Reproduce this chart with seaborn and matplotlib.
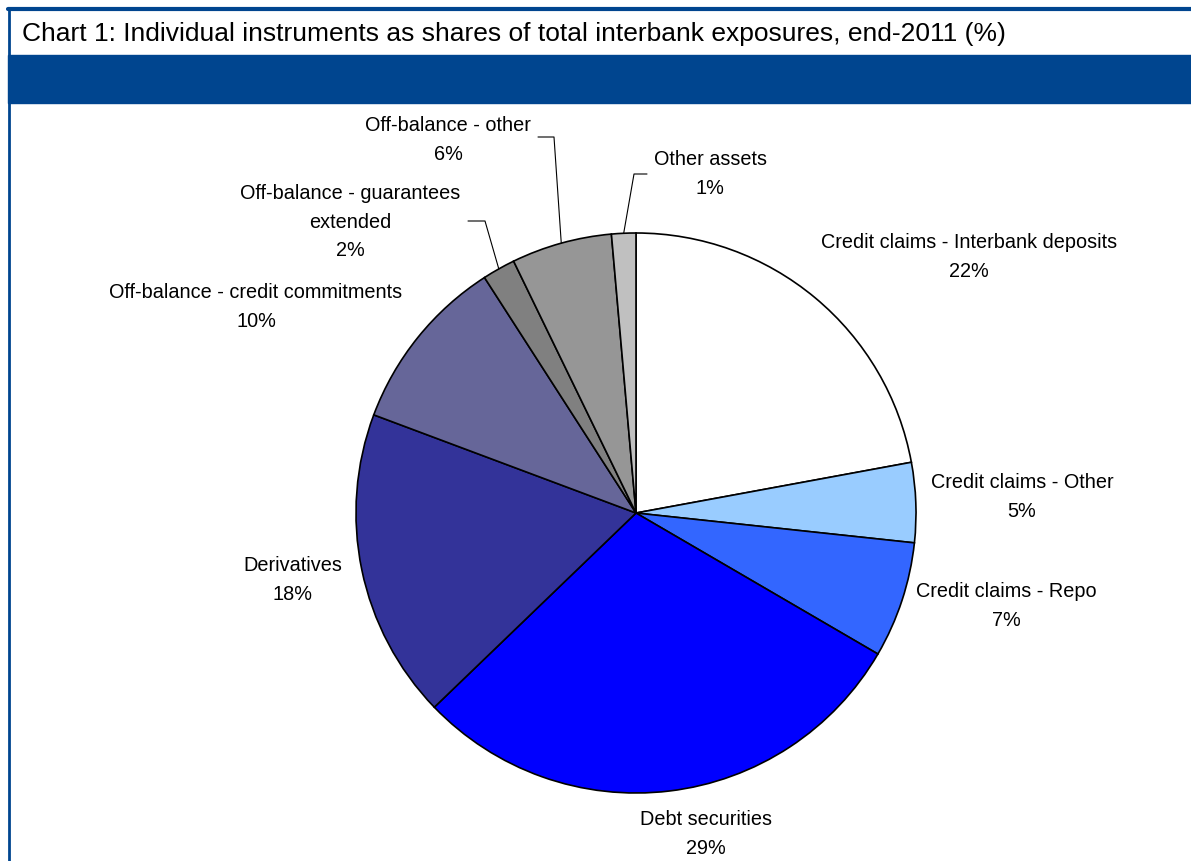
import numpy as np
import seaborn as sns
import matplotlib.pyplot as plt

sns.set_style("white")
plt.rcParams['font.family'] = ['Liberation Sans', 'DejaVu Sans']

# shares of total interbank exposures, end-2011 (%)
instruments = ["Credit claims - Interbank deposits", "Credit claims - Other",
               "Credit claims - Repo", "Debt securities", "Derivatives",
               "Off-balance - credit commitments", "Off-balance - guarantees\nextended",
               "Off-balance - other", "Other assets"]
shares = [22.1, 4.6, 6.7, 29.4, 17.9, 10.2, 1.9, 5.8, 1.4]
colours = ["#FFFFFF", "#99CCFF", "#3366FF", "#0000FF", "#333399",
           "#666699", "#808080", "#969696", "#C0C0C0"]

# label centres (pixels, from top-left) and which ones get a leader line
label_pos = [(969, 257), (1022, 497), (1006, 606), (706, 834), (293, 580),
             (256, 307), (350, 222), (448, 140), (710, 174)]
leader_bend = {6: ((485, 221), (468, 221)), 7: ((554, 137), (538, 137)),
               8: ((634, 174), (647, 174))}

W, H = 1191, 861
fig = plt.figure(figsize=(W / 100, H / 100), dpi=100)
ax = fig.add_axes([0, 0, 1, 1])

cx, cy, r = 636, H - 513, 280
wedges, _ = ax.pie(shares, colors=colours, startangle=90, counterclock=False,
                   center=(cx, cy), radius=r,
                   wedgeprops=dict(edgecolor="black", linewidth=1.2))

for i, (name, val) in enumerate(zip(instruments, shares)):
    x, y = label_pos[i]
    ax.text(x, H - y, f"{name}\n{val:.0f}%", ha="center", va="center",
            fontsize=14.3, linespacing=1.65, color="black")
    if i in leader_bend:
        w = wedges[i]
        mid = np.deg2rad((w.theta1 + w.theta2) / 2)
        sx, sy = cx + r * np.cos(mid), cy + r * np.sin(mid)
        (bx, by), (ex, ey) = leader_bend[i]
        ax.plot([sx, bx, ex], [sy, H - by, H - ey], color="black", lw=0.8)

# header: title strip and blue band, blue frame
blue = "#00458F"
ax.add_patch(plt.Rectangle((8, H - 103), W, 48, color=blue, zorder=0))
ax.plot([9, 9], [0, H - 9], color=blue, lw=2)
ax.plot([8, W], [H - 9, H - 9], color=blue, lw=3)
ax.text(22, H - 34, "Chart 1: Individual instruments as shares of total interbank exposures, end-2011 (%)",
        ha="left", va="center", fontsize=19, color="black")

ax.set_xlim(0, W)
ax.set_ylim(0, H)
ax.set_aspect("auto")
ax.axis("off")

plt.savefig("out.png", dpi=100)
